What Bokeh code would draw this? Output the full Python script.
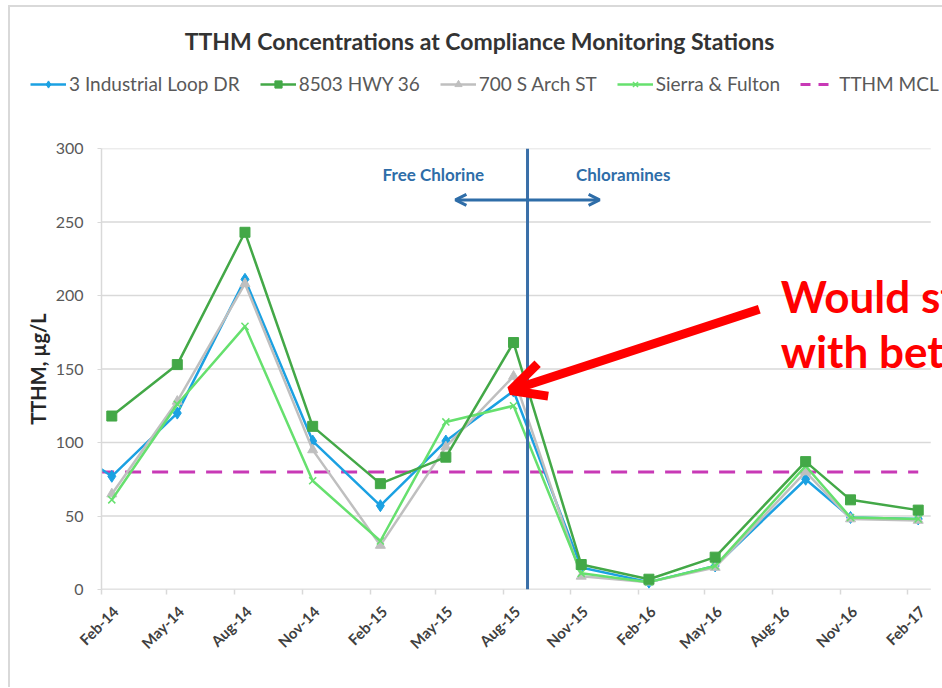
import math
import pandas as pd
from bokeh.plotting import figure
from bokeh.layouts import column
from bokeh.models import (Legend, LegendItem, Span, Label, Arrow, OpenHead,
                          MonthsTicker, DatetimeTickFormatter, DatetimeAxis, Range1d)
from bokeh.embed import file_html
from bokeh.resources import INLINE

# ---------------- data ----------------
dates = ["2014-02-15", "2014-05-15", "2014-08-15", "2014-11-15", "2015-02-15",
         "2015-05-15", "2015-08-15", "2015-11-15", "2016-02-15", "2016-05-15",
         "2016-09-15", "2016-11-15", "2017-02-15"]
industrial_dates = ["2013-11-15"] + dates
industrial_loop = [108, 77, 120, 211, 101, 57, 101, 135, 15, 5, 16, 75, 49, 48]
hwy_36 = [118, 153, 243, 111, 72, 90, 168, 17, 7, 22, 87, 61, 54]
s_arch = [65, 128, 208, 95, 30, 97, 145, 9, 5, 15, 80, 48, 47]
sierra_fulton = [61, 126, 179, 74, 33, 114, 125, 11, 5, 16, 84, 49, 48]
mcl_dates = industrial_dates
mcl_values = [80] * len(mcl_dates)
switch_date = "2015-09-03"
y_ticks = [0, 50, 100, 150, 200, 250, 300]
tick_months = [1, 4, 7, 10]   # Feb, May, Aug, Nov (0-based)
axis_start, axis_end, view_end = "2014-02-01", "2017-03-04", "2017-03-20"

series_names = ["3 Industrial Loop DR", "8503 HWY 36", "700 S Arch ST",
                "Sierra & Fulton", "TTHM MCL"]
title_text = "TTHM Concentrations at Compliance Monitoring Stations"


def ts(d):
    return pd.Timestamp(d)


def ms(d):
    return pd.Timestamp(d).value / 1e6


FONT = "Lato"
GRID = "#D9D9D9"
blue = "#1BA1E2"
green = "#43A847"
gray = "#BFBFBF"
lgreen = "#66E06E"
magenta = "#C839B6"
W = 932
HEAD_H = 131
NAN = [float("nan")]


def no_align(fig):
    try:
        fig.frame_align = False
    except AttributeError:
        pass


# ---------------- header: title + legend ----------------
head = figure(width=W, height=HEAD_H, output_backend="svg", toolbar_location=None,
              x_range=Range1d(0, W), y_range=Range1d(0, HEAD_H),
              x_axis_location=None, y_axis_location=None,
              min_border=0, min_border_left=0, min_border_right=0,
              min_border_top=0, min_border_bottom=0)
no_align(head)
head.outline_line_color = None
head.xgrid.grid_line_color = None
head.ygrid.grid_line_color = None
head.background_fill_color = "white"
head.border_fill_color = "white"

head.add_layout(Label(x=469, y=98, text=title_text, text_align="center",
                      text_baseline="alphabetic", text_font=FONT,
                      text_font_size="23px", text_font_style="bold",
                      text_color="#333333"))

# legend proxies (single NaN point: nothing drawn in the header itself)
hl1 = head.line(NAN, NAN, line_color=blue, line_width=2.5)
hm1 = head.scatter(NAN, NAN, marker="diamond", size=12, fill_color=blue, line_color=blue)
hl2 = head.line(NAN, NAN, line_color=green, line_width=2.5)
hm2 = head.scatter(NAN, NAN, marker="square", size=10, fill_color=green, line_color=green)
hl3 = head.line(NAN, NAN, line_color=gray, line_width=2.5)
hm3 = head.scatter(NAN, NAN, marker="triangle", size=10, fill_color=gray, line_color=gray)
hl4 = head.line(NAN, NAN, line_color=lgreen, line_width=2.5)
hm4 = head.scatter(NAN, NAN, marker="x", size=10, line_color=lgreen, line_width=1.5)
hl5 = head.line(NAN, NAN, line_color=magenta, line_width=3, line_dash="10 8")

legend = Legend(items=[
    LegendItem(label=series_names[0], renderers=[hl1, hm1]),
    LegendItem(label=series_names[1], renderers=[hl2, hm2]),
    LegendItem(label=series_names[2], renderers=[hl3, hm3]),
    LegendItem(label=series_names[3], renderers=[hl4, hm4]),
    LegendItem(label=series_names[4], renderers=[hl5]),
], orientation="horizontal", location=(20, 43))
legend.border_line_color = None
legend.background_fill_alpha = 0
legend.padding = 0
legend.margin = 0
legend.spacing = 20
legend.glyph_width = 36
legend.glyph_height = 18
legend.label_height = 18
legend.label_standoff = 3
legend.label_text_font = FONT
legend.label_text_font_size = "19px"
legend.label_text_color = "#595959"
legend.label_text_baseline = "middle"
head.add_layout(legend, "center")

# ---------------- main chart ----------------
p = figure(width=W, height=549, output_backend="svg", toolbar_location=None,
           x_axis_type="datetime",
           x_range=Range1d(ts(axis_start), ts(view_end)),
           y_range=Range1d(0, 300),
           min_border_left=91, min_border_right=0, min_border_top=10,
           min_border_bottom=98)
no_align(p)
p.background_fill_color = "white"
p.border_fill_color = "white"
p.outline_line_color = None

# grid drawn from the y ticks, ending at the axis end
p.xgrid.grid_line_color = None
p.ygrid.grid_line_color = None
p.segment(x0=[ts(axis_start)] * len(y_ticks), x1=[ts(axis_end)] * len(y_ticks),
          y0=y_ticks, y1=y_ticks, line_color=GRID, line_width=1.5)

# y axis
p.yaxis.ticker = y_ticks
p.yaxis.axis_line_color = GRID
p.yaxis.axis_line_width = 1.5
p.yaxis.major_tick_line_color = GRID
p.yaxis.major_tick_out = 4
p.yaxis.major_tick_in = 0
p.yaxis.minor_tick_line_color = None
p.yaxis.major_label_text_font = FONT
p.yaxis.major_label_text_font_size = "16px"
p.yaxis.major_label_text_color = "#595959"
p.yaxis.major_label_standoff = 14
p.yaxis.axis_label = "TTHM, µg/L"
p.yaxis.axis_label_text_font = FONT
p.yaxis.axis_label_text_font_size = "20px"
p.yaxis.axis_label_text_font_style = "bold"
p.yaxis.axis_label_text_color = "#262626"
p.yaxis.axis_label_standoff = 3

# x axis: tick marks (labels come from a slightly shifted second axis)
fmt = "%b-%y"
xa = p.xaxis[0]
xa.ticker = MonthsTicker(months=tick_months)
xa.formatter = DatetimeTickFormatter(months=fmt, days=fmt, years=fmt,
                                     hours=fmt, minutes=fmt)
xa.axis_line_color = None
xa.major_tick_line_color = GRID
xa.major_tick_line_width = 1.5
xa.major_tick_out = 5
xa.major_tick_in = 0
xa.minor_tick_line_color = None
xa.major_label_text_font_size = "1px"
xa.major_label_text_color = None
xa.major_label_standoff = 0
p.segment(x0=[ts(axis_start)], x1=[ts(axis_end)], y0=[0], y1=[0],
          line_color=GRID, line_width=1.5)

shift_days = 19
p.extra_x_ranges = {"labels": Range1d(ts(axis_start) - pd.Timedelta(days=shift_days),
                                      ts(view_end) - pd.Timedelta(days=shift_days))}
xlab = DatetimeAxis(x_range_name="labels", ticker=MonthsTicker(months=tick_months),
                    formatter=DatetimeTickFormatter(months=fmt, days=fmt, years=fmt,
                                                    hours=fmt, minutes=fmt))
xlab.axis_line_color = None
xlab.major_tick_line_color = None
xlab.minor_tick_line_color = None
xlab.major_tick_out = 0
xlab.major_tick_in = 0
xlab.major_label_orientation = math.pi / 4
xlab.major_label_text_font = FONT
xlab.major_label_text_font_size = "15px"
xlab.major_label_text_font_style = "bold"
xlab.major_label_text_color = "#404040"
xlab.major_label_standoff = 14
p.add_layout(xlab, "below")

# series
xd_ind = [ts(d) for d in industrial_dates]
xd = [ts(d) for d in dates]

p.line([ts(d) for d in mcl_dates], mcl_values, line_color=magenta,
       line_width=3, line_dash="16 11")
p.line(xd_ind, industrial_loop, line_color=blue, line_width=2.5)
p.scatter(xd_ind, industrial_loop, marker="diamond", size=12,
          fill_color=blue, line_color=blue)
p.line(xd, s_arch, line_color=gray, line_width=2.5)
p.scatter(xd, s_arch, marker="triangle", size=10, fill_color=gray, line_color=gray)
p.line(xd, sierra_fulton, line_color=lgreen, line_width=2.5)
p.scatter(xd, sierra_fulton, marker="x", size=10, line_color=lgreen, line_width=1.5)
p.line(xd, hwy_36, line_color=green, line_width=2.5)
p.scatter(xd, hwy_36, marker="square", size=10, fill_color=green, line_color=green)

# switch line
p.add_layout(Span(location=ms(switch_date), dimension="height",
                  line_color="#3A6FA8", line_width=3))

# double arrow + labels
p.add_layout(Arrow(x_start=ms("2015-05-28"), y_start=265, x_end=ms("2015-12-10"),
                   y_end=265, line_color="#2E6DA8", line_width=3,
                   start=OpenHead(size=11, line_color="#2E6DA8", line_width=3),
                   end=OpenHead(size=11, line_color="#2E6DA8", line_width=3)))
p.add_layout(Label(x=ms("2015-04-28"), y=282, text="Free Chlorine",
                   text_align="center", text_baseline="middle",
                   text_font=FONT, text_font_size="17px",
                   text_font_style="bold", text_color="#2E6DA8"))
p.add_layout(Label(x=ms("2016-01-11"), y=282, text="Chloramines",
                   text_align="center", text_baseline="middle",
                   text_font=FONT, text_font_size="17px",
                   text_font_style="bold", text_color="#2E6DA8"))

# red annotation
p.add_layout(Arrow(x_start=ms("2016-07-14"), y_start=190.6,
                   x_end=ms("2015-08-11"), y_end=135.4,
                   line_color="#FF0000", line_width=9,
                   end=OpenHead(size=34, line_color="#FF0000", line_width=9)))
p.add_layout(Label(x=ms("2016-08-12"), y=199.5, text="Would st",
                   text_align="left", text_baseline="alphabetic",
                   text_font=FONT, text_font_size="44px",
                   text_font_style="bold", text_color="#FF0000"))
p.add_layout(Label(x=ms("2016-08-12"), y=162.2, text="with bet",
                   text_align="left", text_baseline="alphabetic",
                   text_font=FONT, text_font_size="44px",
                   text_font_style="bold", text_color="#FF0000"))

layout = column(head, p, spacing=0,
                styles={"margin-left": "8px", "margin-top": "5px",
                        "border-left": "2px solid #D9D9D9",
                        "border-top": "2px solid #D9D9D9"})

open("out.html", "w").write(file_html(layout, INLINE))
